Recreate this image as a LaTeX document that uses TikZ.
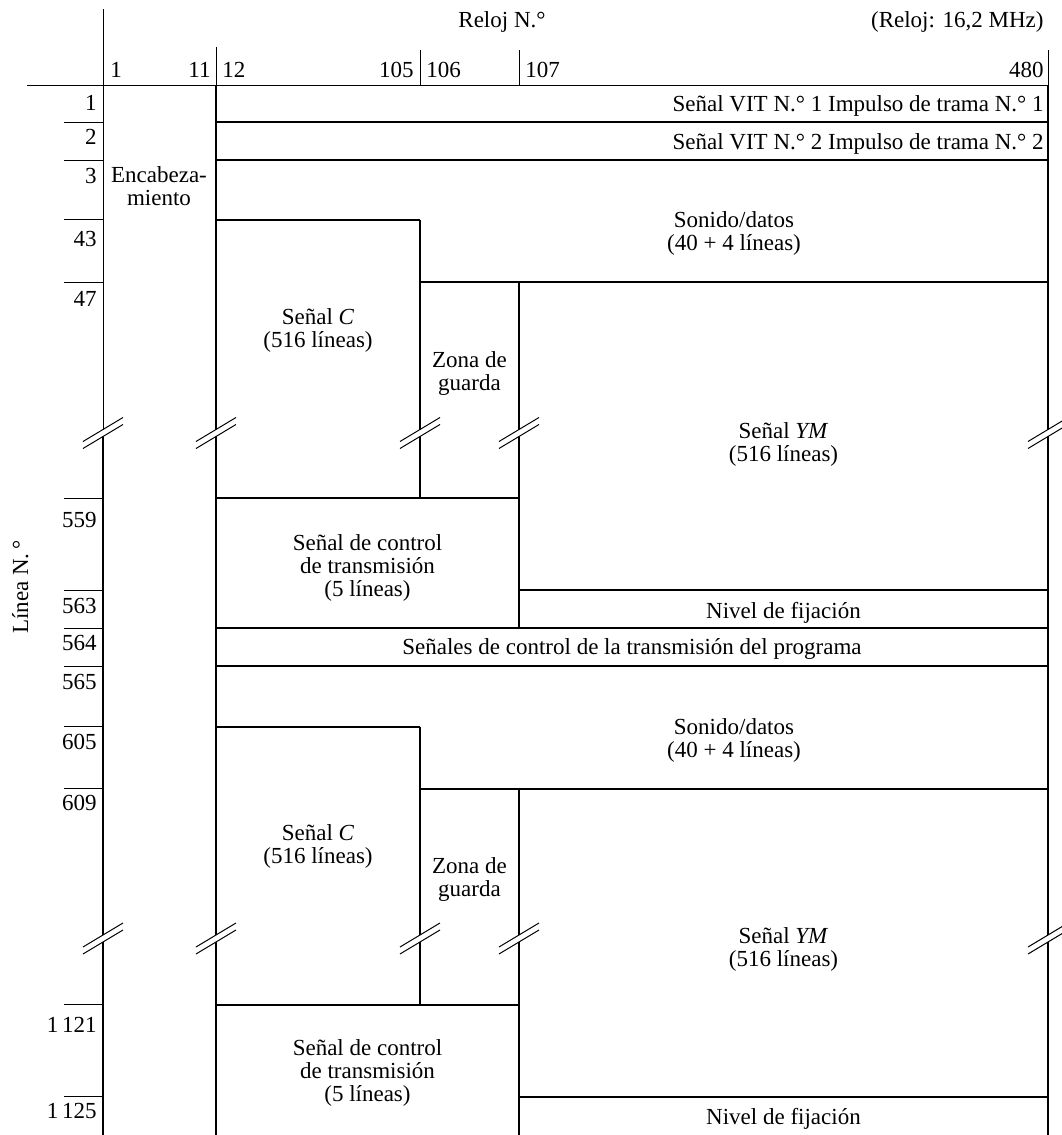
\documentclass[tikz,border=0pt]{standalone}
\usepackage{fontspec}
\setmainfont{Liberation Serif}
\begin{document}
\begin{tikzpicture}[x=0.5pt,y=-0.5pt,
  thk/.style={line width=1pt},
  thn/.style={line width=0.5pt},
  lbl/.style={font=\fontsize{11.5}{11.5}\selectfont, inner sep=0pt, align=center},
  num/.style={lbl, anchor=base east},
  brk/.style={line width=0.5pt},
]
\useasboundingbox (0,0) rectangle (1061,1135);

% ---------- axes and header ----------
\draw[thn] (103,9) -- (103,433);
\draw[thk] (103,433) -- (103,1135);
\draw[thn] (27,85) -- (1048,85);
\draw[thn] (216,47) -- (216,85);
\draw[thn] (420,50) -- (420,85);
\draw[thn] (519,50) -- (519,85);
\draw[thn] (1048,50) -- (1048,85);

\node[lbl, anchor=base] (reloj) at (502,27) {Reloj N.°};
\node[lbl, anchor=base east] (mhz) at (1044,27) {(Reloj: 16,2 MHz)};

\node[lbl, anchor=base west] (c1) at (110,77) {1};
\node[lbl, anchor=base east] (c11) at (211,77) {11};
\node[lbl, anchor=base west] (c12) at (222,77) {12};
\node[lbl, anchor=base east] (c105) at (414,77) {105};
\node[lbl, anchor=base west] (c106) at (426,77) {106};
\node[lbl, anchor=base west] (c107) at (525,77) {107};
\node[lbl, anchor=base east] (c480) at (1044,77) {480};

\node[lbl, rotate=90, anchor=base] (linea) at (28,587) {Línea N.\,°};

% ---------- main frame ----------
\draw[thk] (216,85) -- (216,1135);
\draw[thk] (1048,85) -- (1048,1135);

\foreach \o in {0,506.5}{
  \draw[thk] (420,220+\o) -- (420,498+\o);
  \draw[thk] (519,282+\o) -- (519,628+\o);
  \draw[thk] (216,220+\o) -- (420,220+\o);
  \draw[thk] (420,282+\o) -- (1048,282+\o);
  \draw[thk] (216,498+\o) -- (519,498+\o);
  \draw[thk] (519,590+\o) -- (1048,590+\o);
}
\draw[thk] (216,122) -- (1048,122);
\draw[thk] (216,160) -- (1048,160);
\draw[thk] (216,628) -- (1048,628);
\draw[thk] (216,666) -- (1048,666);

% ---------- left ticks and numbers ----------
\foreach \t in {122,160,219,282,498,590,628,666,726.5,788.5,1004.5,1096.5}{
  \draw[thn] (64,\t) -- (103,\t);
}
\node[num] (r1) at (97,110) {1};
\node[num] (r2) at (97,144) {2};
\node[num] (r3) at (97,183) {3};
\node[num] (r43) at (97,246) {43};
\node[num] (r47) at (97,306) {47};
\node[num] (r559) at (97,527) {559};
\node[num] (r563) at (97,613) {563};
\node[num] (r564) at (97,650) {564};
\node[num] (r565) at (97,689) {565};
\node[num] (r605) at (97,749.5) {605};
\node[num] (r609) at (97,810.5) {609};
\node[num] (r1121) at (97,1032) {1\,121};
\node[num] (r1125) at (97,1118.5) {1\,125};

% ---------- break marks ----------
\foreach \yb in {433,938.5}{
  \foreach \xb in {103,216,420,519,1048}{
    \fill[white] (\xb-20,\yb+8.5) -- (\xb+20,\yb-15.5) -- (\xb+20,\yb-8.5) -- (\xb-20,\yb+15.5) -- cycle;
    \draw[brk] (\xb-20,\yb+8.5) -- (\xb+20,\yb-15.5);
    \draw[brk] (\xb-20,\yb+15.5) -- (\xb+20,\yb-8.5);
  }
}

% ---------- contents ----------
\node[lbl, anchor=base east] (vit1) at (1044,111) {Señal VIT N.° 1 Impulso de trama N.° 1};
\node[lbl, anchor=base east] (vit2) at (1044,149) {Señal VIT N.° 2 Impulso de trama N.° 2};
\node[lbl] (enc) at (159,186) {Encabeza-\\miento};

\node[lbl] (sona) at (734,233) {Sonido/datos\\(40 + 4 líneas)};
\node[lbl] (sca) at (318,330) {Señal \textit{C}\\(516 líneas)};
\node[lbl] (zga) at (469.5,373) {Zona de\\guarda};
\node[lbl] (yma) at (783.5,444) {Señal \textit{YM}\\(516 líneas)};
\node[lbl] (ctla) at (367.5,568) {Señal de control\\de transmisión\\(5 líneas)};

\node[lbl] (sonb) at (734,740) {Sonido/datos\\(40 + 4 líneas)};
\node[lbl] (scb) at (318,846) {Señal \textit{C}\\(516 líneas)};
\node[lbl] (zgb) at (469.5,879.5) {Zona de\\guarda};
\node[lbl] (ymb) at (783.5,949.5) {Señal \textit{YM}\\(516 líneas)};
\node[lbl] (ctlb) at (367.5,1072.5) {Señal de control\\de transmisión\\(5 líneas)};

\node[lbl, anchor=base] (niva) at (783.5,618) {Nivel de fijación};
\node[lbl, anchor=base] (nivb) at (783.5,1124) {Nivel de fijación};
\node[lbl, anchor=base] (prog) at (632,654) {Señales de control de la transmisión del programa};
\end{tikzpicture}
\end{document}
